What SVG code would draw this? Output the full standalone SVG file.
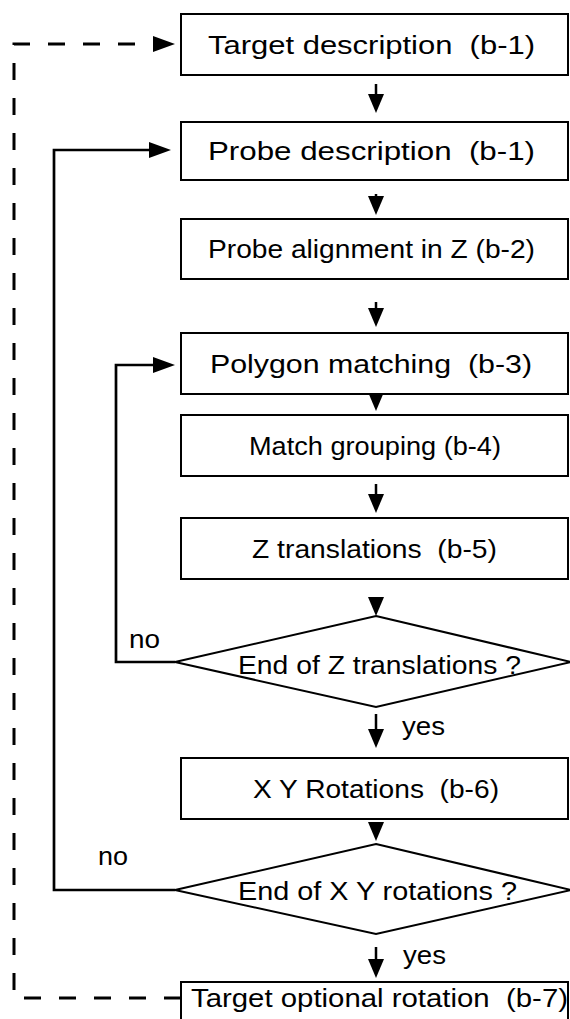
<svg xmlns="http://www.w3.org/2000/svg" width="570" height="1019" viewBox="0 0 570 1019">
  <style>
    .box { fill: #fff; stroke: #000; stroke-width: 2; }
    .dia { fill: #fff; stroke: #000; stroke-width: 2; stroke-linejoin: miter; }
    .lbl { font-family: "Liberation Sans", Arial, Helvetica, sans-serif; font-size: 26px; fill: #000; white-space: pre; }
    .flow { fill: none; stroke: #000; stroke-width: 2.5; }
    .loop { fill: none; stroke: #000; stroke-width: 2.7; stroke-linejoin: miter; }
    .dash { fill: none; stroke: #000; stroke-width: 3; stroke-dasharray: 17 18; }
    .head { fill: #000; stroke: none; }
  </style>
  <defs>
    <!-- downward arrowhead, tip at origin -->
    <polygon id="down" class="head" points="0,0 -8,-19 8,-19"/>
    <!-- rightward arrowhead, tip at origin -->
    <polygon id="right" class="head" points="0,0 -22,-8 -22,8"/>
  </defs>
  <rect width="570" height="1019" fill="#fff"/>

  <!-- connectors -->
  <g id="connectors">
    <!-- straight flow downwards -->
    <path class="flow" d="M376,84 V96 M376,194 V198 M376,302 V310 M376,397 V394 M376,484 V496 M376,600 V599 M376,714 V731 M376,822 V823 M376,947 V961"/>
    <use href="#down" x="376" y="113"/>
    <use href="#down" x="376" y="215"/>
    <use href="#down" x="376" y="327"/>
    <use href="#down" x="376" y="411"/>
    <use href="#down" x="376" y="513"/>
    <use href="#down" x="376" y="616"/>
    <use href="#down" x="376" y="748"/>
    <use href="#down" x="376" y="841"/>
    <use href="#down" x="376" y="978"/>

    <!-- inner loop: back to polygon matching -->
    <path class="loop" d="M175,662 H116 V365 H155"/>
    <use href="#right" x="175" y="365"/>

    <!-- outer loop: back to probe description -->
    <path class="loop" d="M175,890 H54 V150 H152"/>
    <use href="#right" x="171" y="150"/>

    <!-- optional target rotation: back to target description -->
    <path class="dash" d="M181,998 H14 V44 H160"/>
    <use href="#right" x="175" y="44"/>

    <text class="lbl" x="129" y="648" textLength="31" lengthAdjust="spacingAndGlyphs">no</text>
    <text class="lbl" x="98" y="865" textLength="30" lengthAdjust="spacingAndGlyphs">no</text>
    <text class="lbl" x="402" y="735" textLength="43" lengthAdjust="spacingAndGlyphs">yes</text>
    <text class="lbl" x="403" y="964" textLength="43" lengthAdjust="spacingAndGlyphs">yes</text>
  </g>

  <g id="target-description">
    <rect class="box" x="181" y="14" width="387" height="61"/>
    <text class="lbl" x="208" y="53.5" textLength="327" lengthAdjust="spacingAndGlyphs">Target description  (b-1)</text>
  </g>
  <g id="probe-description">
    <rect class="box" x="181" y="122" width="387" height="58"/>
    <text class="lbl" x="208" y="160" textLength="327" lengthAdjust="spacingAndGlyphs">Probe description  (b-1)</text>
  </g>
  <g id="probe-alignment">
    <rect class="box" x="181" y="219" width="387" height="60"/>
    <text class="lbl" x="208" y="258" textLength="327" lengthAdjust="spacingAndGlyphs">Probe alignment in Z (b-2)</text>
  </g>
  <g id="polygon-matching">
    <rect class="box" x="181" y="333" width="387" height="61"/>
    <text class="lbl" x="210" y="372.5" textLength="322" lengthAdjust="spacingAndGlyphs">Polygon matching  (b-3)</text>
  </g>
  <g id="match-grouping">
    <rect class="box" x="181" y="415" width="387" height="61"/>
    <text class="lbl" x="249" y="454.5" textLength="252" lengthAdjust="spacingAndGlyphs">Match grouping (b-4)</text>
  </g>
  <g id="z-translations">
    <rect class="box" x="181" y="518" width="387" height="61"/>
    <text class="lbl" x="252" y="557.5" textLength="245" lengthAdjust="spacingAndGlyphs">Z translations  (b-5)</text>
  </g>
  <g id="end-of-z">
    <polygon class="dia" points="376,616 571,662 376,707 175,662"/>
    <text class="lbl" x="238" y="674" textLength="283" lengthAdjust="spacingAndGlyphs">End of Z translations ?</text>
  </g>
  <g id="xy-rotations">
    <rect class="box" x="181" y="758" width="387" height="61"/>
    <text class="lbl" x="253" y="797.5" textLength="246" lengthAdjust="spacingAndGlyphs">X Y Rotations  (b-6)</text>
  </g>
  <g id="end-of-xy">
    <polygon class="dia" points="376,844 571,890 376,934 175,890"/>
    <text class="lbl" x="238" y="900" textLength="279" lengthAdjust="spacingAndGlyphs">End of X Y rotations ?</text>
  </g>
  <g id="target-optional-rotation">
    <rect class="box" x="181" y="982" width="387" height="60"/>
    <text class="lbl" x="191" y="1007" textLength="377" lengthAdjust="spacingAndGlyphs">Target optional rotation  (b-7)</text>
  </g>
</svg>
